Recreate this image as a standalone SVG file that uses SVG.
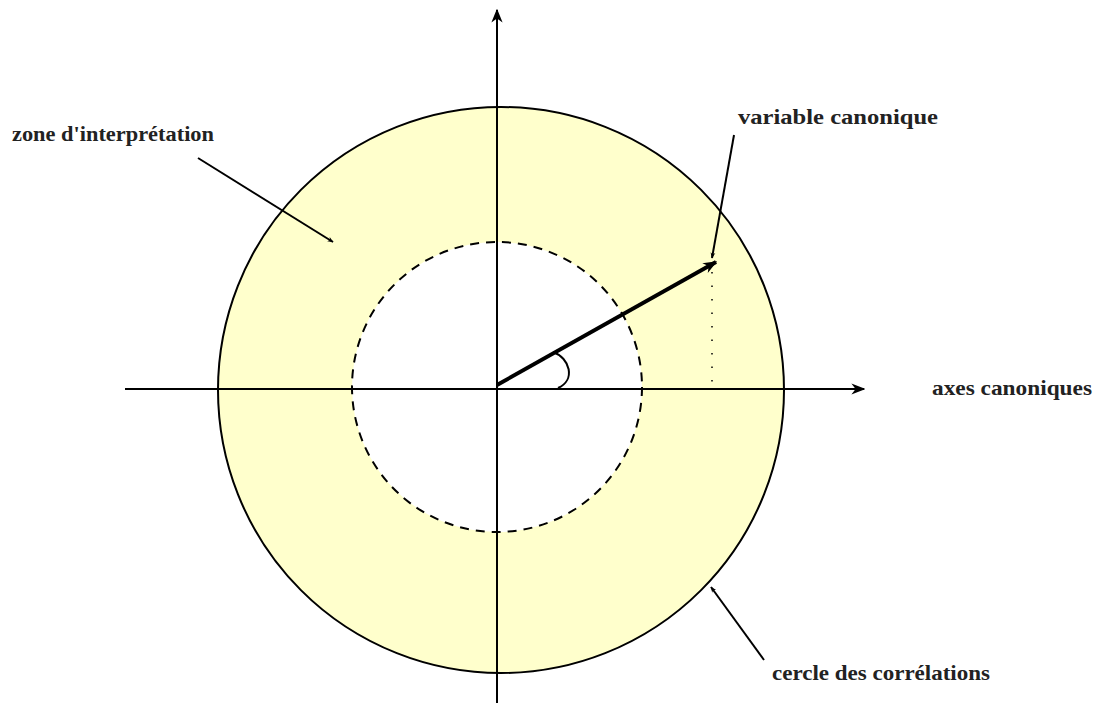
<svg xmlns="http://www.w3.org/2000/svg" width="1100" height="703" viewBox="0 0 1100 703">
<style>
.lbl{font-family:"Liberation Serif",serif;font-size:21px;font-weight:bold;fill:#222}
.ax{stroke:#000;stroke-width:2;fill:none}
.ptr{stroke:#000;stroke-width:2;fill:none}
</style>
<defs>
<marker id="ah" viewBox="0 0 10 10" refX="9" refY="5" markerWidth="6" markerHeight="6" orient="auto" markerUnits="userSpaceOnUse">
<path d="M0,1 L10,5 L0,9 L3,5 Z" fill="#000"/>
</marker>
<marker id="ah2" viewBox="0 0 10 10" refX="9" refY="5" markerWidth="14" markerHeight="14" orient="auto" markerUnits="userSpaceOnUse">
<path d="M0,1 L10,5 L0,9 L3,5 Z" fill="#000"/>
</marker>
</defs>
<rect width="1100" height="703" fill="#fff"/>
<g id="outer-circle">
<circle cx="501" cy="390" r="283" fill="#FFFFCC" stroke="#000" stroke-width="2"/>
</g>
<g id="inner-circle">
<circle cx="497" cy="387" r="145" fill="#fff" stroke="#000" stroke-width="2" stroke-dasharray="9,7"/>
</g>
<g id="connectors">
<line class="ax" x1="125" y1="389" x2="864" y2="389" marker-end="url(#ah2)"/>
<line class="ax" x1="497" y1="703" x2="497" y2="10" marker-end="url(#ah2)"/>
<line x1="497" y1="385" x2="716" y2="262" stroke="#000" stroke-width="4" marker-end="url(#ah2)"/>
<path d="M553,352 C570,358 576,380 558,388" class="ax" stroke-width="1.5"/>
<line x1="712" y1="272" x2="712" y2="389" stroke="#000" stroke-width="1.5" stroke-dasharray="1.5,12"/>
<line class="ptr" x1="198" y1="158" x2="333" y2="242" marker-end="url(#ah)"/>
<line class="ptr" x1="734" y1="135" x2="712" y2="258" marker-end="url(#ah)"/>
<line class="ptr" x1="764" y1="660" x2="711" y2="587" marker-end="url(#ah)"/>
</g>
<g id="labels">
<text class="lbl" x="12" y="141" textLength="202" lengthAdjust="spacingAndGlyphs">zone d'interprétation</text>
<text class="lbl" x="738" y="124" textLength="200" lengthAdjust="spacingAndGlyphs">variable canonique</text>
<text class="lbl" x="932" y="395" textLength="160" lengthAdjust="spacingAndGlyphs">axes canoniques</text>
<text class="lbl" x="772" y="680" textLength="218" lengthAdjust="spacingAndGlyphs">cercle des corrélations</text>
</g>
</svg>
